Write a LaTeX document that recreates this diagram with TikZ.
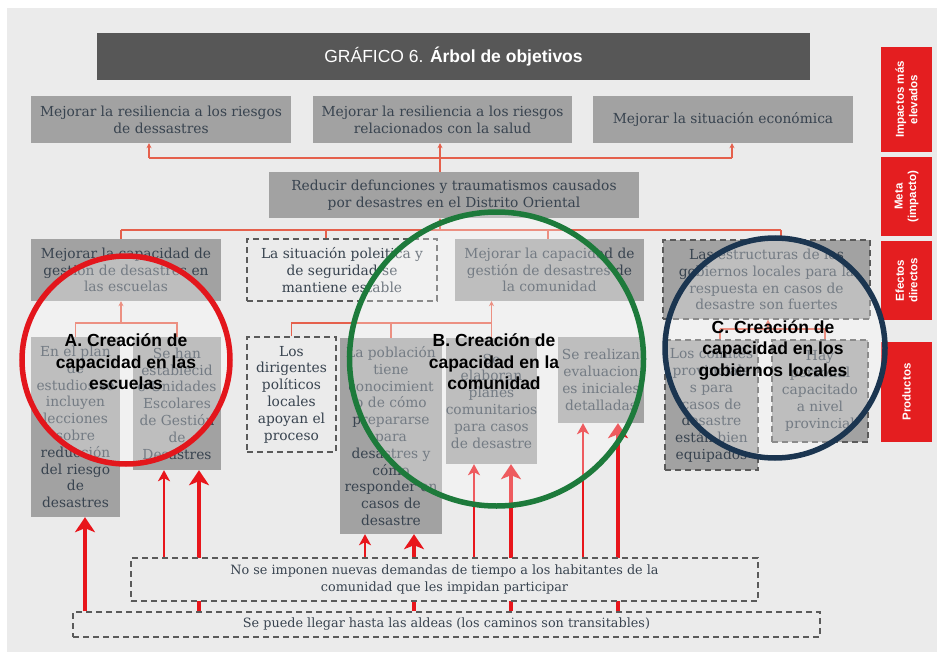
\documentclass[tikz,border=0pt]{standalone}
\usepackage{fontspec}
\setmainfont{DejaVu Serif}
\setsansfont{Liberation Sans}
\usetikzlibrary{arrows.meta}
\definecolor{fondo}{HTML}{EBEBEB}
\definecolor{titulo}{HTML}{575757}
\definecolor{gris}{HTML}{A2A2A2}
\definecolor{texto}{HTML}{38434F}
\definecolor{borde}{HTML}{5A5A5A}
\definecolor{linea}{HTML}{E5604C}
\definecolor{flechas}{HTML}{E8151B}
\definecolor{rojo}{HTML}{E41E20}
\definecolor{rojoc}{HTML}{E3161C}
\definecolor{verde}{HTML}{1D7A3B}
\definecolor{azul}{HTML}{1B3550}
\pgfdeclarelayer{capafondo}
\pgfdeclarelayer{atras}
\pgfsetlayers{capafondo,atras,main}
\tikzset{
  caja/.style={fill=gris, text=texto, align=center, inner sep=0pt,
    font=\fontsize{13.8}{16.8}\selectfont},
  hipo/.style={caja, fill=fondo, draw=borde, dash pattern=on 6pt off 4pt, line width=1.1pt},
  cajahipo/.style={hipo, fill=gris},
  pie/.style={hipo, font=\fontsize{12.8}{16.8}\selectfont},
  etiqueta/.style={fill=rojo, text=white, rotate=90, align=center, inner sep=0pt,
    minimum height=51pt, font=\sffamily\bfseries\fontsize{11.5}{13.5}\selectfont},
  conn/.style={draw=linea, line width=1.2pt},
  flecha/.style={conn, -{Stealth[length=5pt,width=5pt]}},
  fina/.style={draw=flechas, line width=2.6pt, -{Stealth[length=11pt,width=12pt,inset=3pt]}},
  gruesa/.style={draw=flechas, line width=4.5pt, -{Stealth[length=15pt,width=20pt,inset=4pt]}},
  circulo/.style={line width=5.5pt, fill=white, fill opacity=0.3},
  rotulo/.style={font=\sffamily\bfseries\fontsize{17.5}{21.5}\selectfont, align=center, text=black}
}
\begin{document}
\begin{tikzpicture}[x=1pt,y=-1pt]
\useasboundingbox (0,0) rectangle (944,655);
\begin{pgfonlayer}{capafondo}
\fill[fondo] (7,8) rectangle (937,652);
\end{pgfonlayer}
\node[fill=titulo, text=white, minimum width=713pt, minimum height=47pt,
  font=\sffamily\fontsize{17.5}{20}\selectfont] (titulo) at (453.5,56.5) {GRÁFICO 6. \textbf{Árbol de objetivos}};
\node[caja, minimum width=260pt, minimum height=47pt] (imp1) at (161,119.5) {Mejorar la resiliencia a los riesgos\\de dessastres};
\node[caja, minimum width=259pt, minimum height=47pt] (imp2) at (442.5,119.5) {Mejorar la resiliencia a los riesgos\\relacionados con la salud};
\node[caja, minimum width=260pt, minimum height=47pt] (imp3) at (723,119.5) {Mejorar la situación económica};
\node[caja, minimum width=370pt, minimum height=46pt] (meta) at (454,195) {Reducir defunciones y traumatismos causados\\por desastres en el Distrito Oriental};
\node[caja, minimum width=190pt, minimum height=62pt] (efA) at (126,270) {Mejorar la capacidad de\\gestión de desastres en\\las escuelas};
\node[hipo, minimum width=190pt, minimum height=62pt] (supPol) at (342,270) {La situación poleitica y\\de seguridad se\\mantiene estable};
\node[caja, minimum width=189pt, minimum height=62pt] (efB) at (549.5,270) {Mejorar la capacidad de\\gestión de desastres de\\la comunidad};
\node[cajahipo, minimum width=207pt, minimum height=79pt] (efC) at (766.5,279.5) {Las estructuras de los\\gobiernos locales para la\\respuesta en casos de\\desastre son fuertes};
\node[caja, minimum width=89pt, minimum height=180pt] (prA1) at (75.5,427) {En el plan\\de\\estudios se\\incluyen\\lecciones\\sobre\\reducción\\del riesgo\\de\\desastres};
\node[caja, minimum width=88pt, minimum height=133pt] (prA2) at (177,403.5) {Se han\\establecid\\o Unidades\\Escolares\\de Gestión\\de\\Desastres};
\node[hipo, minimum width=89pt, minimum height=115pt] (supDir) at (291.5,394.5) {Los\\dirigentes\\políticos\\locales\\apoyan el\\proceso};
\node[caja, minimum width=102pt, minimum height=196pt] (prB1) at (391,436) {La población\\tiene\\conocimient\\o de cómo\\prepararse\\para\\desastres y\\cómo\\responder en\\casos de\\desastre};
\node[caja, minimum width=87pt, minimum height=126pt] (prB2) at (491.5,401) {Se\\elaboran\\planes\\comunitarios\\para casos\\de desastre};
\node[caja, minimum width=86pt, minimum height=86pt] (prB3) at (601,380) {Se realizan\\evaluacion\\es iniciales\\detalladas};
\node[cajahipo, minimum width=93pt, minimum height=130pt] (prC1) at (711.5,405) {Los comités\\provinciale\\s para\\casos de\\desastre\\están bien\\equipados};
\node[cajahipo, minimum width=96pt, minimum height=102pt] (prC2) at (820,391) {Hay\\personal\\capacitado\\a nivel\\provincial};
\node[pie, minimum width=627pt, minimum height=43pt] (hipTiempo) at (444.5,579.5) {No se imponen nuevas demandas de tiempo a los habitantes de la\\comunidad que les impidan participar};
\node[pie, minimum width=747pt, minimum height=25pt] (hipAldeas) at (446.5,624.5) {Se puede llegar hasta las aldeas (los caminos son transitables)};
\node[etiqueta, minimum width=105pt] (labImp) at (906.5,99.5) {Impactos más\\elevados};
\node[etiqueta, minimum width=79pt] (labMeta) at (906.5,196.5) {Meta\\(impacto)};
\node[etiqueta, minimum width=79pt] (labEf) at (906.5,280.5) {Efectos\\directos};
\node[etiqueta, minimum width=100pt] (labPr) at (906.5,392) {Productos};
\coordinate (t1) at (149,158);
\coordinate (t2) at (440,158);
\coordinate (t3) at (732,158);
\draw[conn] (t1) -- (t3);
\draw[conn] (meta.north -| t2) -- (t2);
\foreach \n in {1,2,3}
  \draw[flecha] (t\n) -- (imp\n.south -| t\n);
\coordinate (m0) at (440,230);
\coordinate (m1) at (121,230);
\coordinate (m2) at (326,230);
\coordinate (m3) at (548,230);
\coordinate (m4) at (781,230);
\draw[conn] (m1) -- (m4);
\draw[flecha] (m0) -- (meta.south -| m0);
\foreach \n/\c in {1/efA, 2/supPol, 3/efB, 4/efC}
  \draw[conn] (m\n) -- (\c.north -| m\n);
\coordinate (a0) at (121,323);
\draw[flecha] (a0) -- (efA.south -| a0);
\draw[conn] (prA1.north) |- (a0) -| (prA2.north);
\coordinate (b0) at (491.5,323);
\draw[flecha] (prB2.north) -- (efB.south -| prB2.north);
\draw[conn] (supDir.north) |- (b0);
\draw[conn] (prB1.north) -- (prB1.north |- b0);
\coordinate (c0) at (768,329);
\coordinate (c1) at (720,329);
\coordinate (c2) at (825,329);
\draw[flecha] (c0) -- (efC.south -| c0);
\draw[conn] (c1) -- (c2);
\draw[conn] (c1) -- (prC1.north -| c1);
\draw[conn] (c2) -- (prC2.north -| c2);
\begin{pgfonlayer}{atras}
\foreach \x/\n in {85/prA1, 199/prA2, 414/prB1, 511/prB2, 618/prB3}
  \draw[gruesa] (hipAldeas.north -| \x,0) -- (\n.south -| \x,0);
\foreach \x/\n in {164/prA2, 365/prB1, 474/prB2, 583/prB3}
  \draw[fina] (hipTiempo.north -| \x,0) -- (\n.south -| \x,0);
\end{pgfonlayer}
\draw[circulo, draw=rojoc] (126,360) circle[radius=104];
\draw[circulo, draw=verde] (496.5,359) circle[radius=147];
\draw[circulo, draw=azul] (775,348) circle[radius=110];
\node[rotulo] (rotA) at (126,362) {A. Creación de\\capacidad en las\\escuelas};
\node[rotulo] (rotB) at (494,362) {B. Creación de\\capacidad en la\\comunidad};
\node[rotulo] (rotC) at (773,350) {C. Creación de\\capacidad en los\\gobiernos locales};
\end{tikzpicture}
\end{document}
